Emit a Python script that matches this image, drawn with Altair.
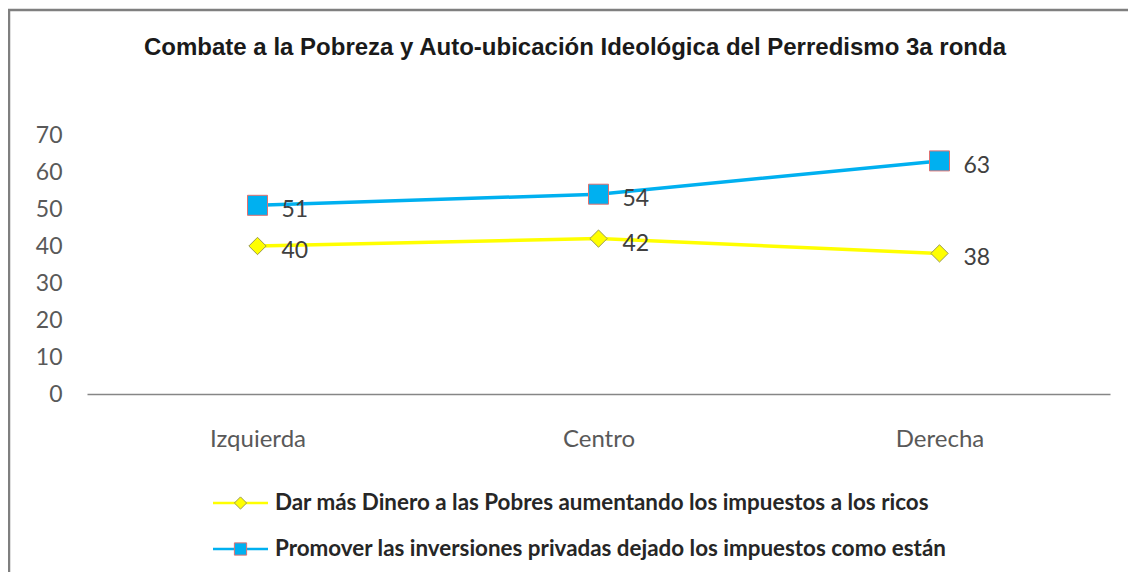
import altair as alt
import pandas as pd

# ---------------- data ----------------
categories = ["Izquierda", "Centro", "Derecha"]
series_names = [
    "Dar más Dinero a las Pobres aumentando  los impuestos  a los ricos",
    "Promover las inversiones privadas dejado los impuestos como están",
]
dar_values = [40, 42, 38]
promover_values = [51, 54, 63]
y_ticks = [0, 10, 20, 30, 40, 50, 60, 70]
title_text = "Combate a la Pobreza  y Auto-ubicación Ideológica del Perredismo 3a ronda"

# ---------------- styles ----------------
line_colors = ["#FFFF00", "#00B0F0"]
marker_shapes = ["diamond", "square"]
marker_strokes = ["#9a9a50", "#e07070"]
marker_sizes = [300, 400]
legend_marker_sizes = [150, 150]

W, H = 1023, 259
PAD = {"left": 79, "top": 127, "right": 18, "bottom": 178}

rows = []
for name, vals in zip(series_names, [dar_values, promover_values]):
    for c, v in zip(categories, vals):
        rows.append({"categoria": c, "serie": name, "valor": v})
df = pd.DataFrame(rows)

x_enc = alt.X(
    "categoria:N",
    sort=categories,
    scale=alt.Scale(type="point", padding=0.5),
    axis=alt.Axis(
        title=None,
        ticks=False,
        labelAngle=0,
        labelFont="Lato",
        labelFontSize=24,
        labelColor="#595959",
        labelPadding=33,
        domainColor="#868686",
        domainWidth=1.5,
        grid=False,
    ),
)
y_enc = alt.Y(
    "valor:Q",
    scale=alt.Scale(domain=[0, 70], nice=False, zero=True),
    axis=alt.Axis(
        title=None,
        values=y_ticks,
        ticks=False,
        domain=False,
        grid=False,
        labelFont="Lato",
        labelFontSize=23,
        labelColor="#595959",
        labelPadding=25,
    ),
)

layers = []

# outer frame of the chart object
frame = alt.Chart(pd.DataFrame({"f": [0]})).mark_rect(
    fillOpacity=0, stroke="#7f7f7f", strokeWidth=2.5
).encode(
    x=alt.value(-78), x2=alt.value(1070), y=alt.value(-125), y2=alt.value(470)
)
layers.append(frame)

# title as text
title = alt.Chart(pd.DataFrame({"t": [title_text]})).mark_text(
    font="Liberation Sans",
    fontWeight="bold",
    fontSize=24,
    color="#1a1a1a",
    align="center",
    baseline="middle",
).encode(x=alt.value(488), y=alt.value(-87), text="t:N")
layers.append(title)

for i, name in enumerate(series_names):
    base = alt.Chart(df).transform_filter(alt.datum.serie == name)
    line = base.mark_line(color=line_colors[i], strokeWidth=3.5).encode(x=x_enc, y=y_enc)
    pts = base.mark_point(
        shape=marker_shapes[i],
        filled=True,
        fill=line_colors[i],
        stroke=marker_strokes[i],
        strokeWidth=1,
        size=marker_sizes[i],
        opacity=1,
    ).encode(x=x_enc, y=y_enc)
    labels = base.mark_text(
        align="left",
        baseline="middle",
        dx=24,
        dy=5,
        font="Lato",
        fontSize=23,
        color="#404040",
    ).encode(x=x_enc, y=y_enc, text="valor:Q")
    layers += [line, pts, labels]

# manual legend
legend_rows_y = [368, 414]
for i, name in enumerate(series_names):
    ld = alt.Chart(pd.DataFrame({"s": [name]}))
    layers.append(
        ld.mark_rule(color=line_colors[i], strokeWidth=2.5).encode(
            x=alt.value(126), x2=alt.value(181), y=alt.value(legend_rows_y[i])
        )
    )
    layers.append(
        ld.mark_point(
            shape=marker_shapes[i],
            filled=True,
            fill=line_colors[i],
            stroke=marker_strokes[i],
            strokeWidth=1,
            size=legend_marker_sizes[i],
            opacity=1,
        ).encode(x=alt.value(153.5), y=alt.value(legend_rows_y[i]))
    )
    layers.append(
        ld.mark_text(
            align="left",
            baseline="middle",
            font="Lato",
            fontWeight="bold",
            fontSize=22.4,
            color="#262626",
        ).encode(x=alt.value(188), y=alt.value(legend_rows_y[i]), text="s:N")
    )

chart = (
    alt.layer(*layers)
    .properties(
        width=W,
        height=H,
        autosize=alt.AutoSizeParams(type="none"),
        padding=PAD,
        background="white",
    )
    .configure_view(stroke=None)
)

chart.save("out.html", embed_options={"renderer": "svg", "actions": False})
